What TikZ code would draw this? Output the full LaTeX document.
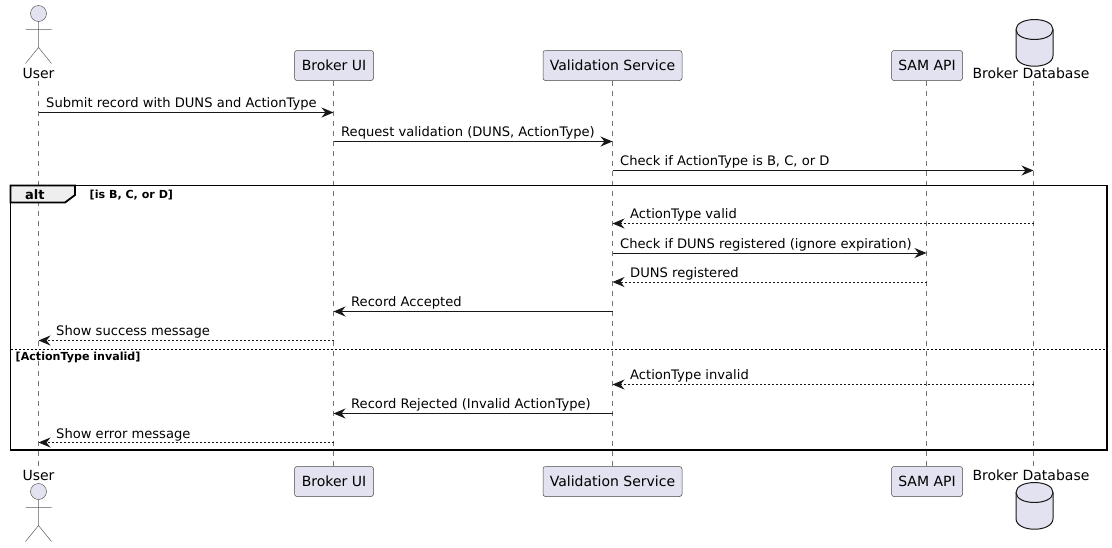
\documentclass[tikz,border=0pt]{standalone}
\usepackage{fontspec}
\setmainfont{DejaVu Sans}
\usetikzlibrary{arrows.meta}
\definecolor{puline}{HTML}{181818}
\definecolor{pufill}{HTML}{E2E2F0}
\definecolor{putab}{HTML}{EEEEEE}
\tikzset{
  x=1pt,y=-1pt,
  msgtext/.style={anchor=base west,inner sep=0pt,text=black,font=\fontsize{13.1}{15}\selectfont},
  partlabel/.style={anchor=base,inner sep=0pt,text=black,font=\fontsize{14}{16}\selectfont},
  partbox/.style={draw=puline!80,fill=pufill,line width=0.5pt,rounded corners=2.5pt,minimum height=30pt,inner sep=0pt,text=black,font=\fontsize{14}{16}\selectfont},
  lifeline/.style={draw=puline!60,line width=0.5pt,dash pattern=on 5pt off 5pt},
  msg/.style={draw=puline,line width=1pt,-{Stealth[length=12pt,width=10pt,inset=4pt]}},
  reply/.style={msg,dash pattern=on 2pt off 2pt},
  shapeline/.style={draw=puline!70,line width=0.5pt},
  dbline/.style={draw=puline,line width=1pt,fill=pufill},
  frameline/.style={draw=black,line width=1.8pt},
  guard/.style={anchor=base west,inner sep=0pt,text=black,font=\fontsize{11.1}{13}\selectfont\bfseries},
}
\newcommand{\stickman}[1]{%
  \draw[shapeline,fill=pufill] (38.5,#1) circle (8);
  \draw[shapeline] (38.5,#1+8) -- (38.5,#1+34)
    (25.5,#1+16) -- (51.5,#1+16)
    (25.5,#1+50) -- (38.5,#1+34) -- (51.5,#1+50);
}
\newcommand{\dbcan}[1]{%
  \draw[dbline] (1016,#1+10) .. controls (1016,#1-3.3) and (1053,#1-3.3) .. (1053,#1+10)
    -- (1053,#1+36) .. controls (1053,#1+50.3) and (1016,#1+50.3) .. (1016,#1+36) -- cycle;
  \draw[dbline,fill=none] (1016,#1+10) .. controls (1016,#1+23.3) and (1053,#1+23.3) .. (1053,#1+10);
}
\begin{document}
\begin{tikzpicture}
\useasboundingbox (0,0) rectangle (1112,547);
% lifeline ends
\coordinate (userT) at (38.5,80.5);   \coordinate (userB) at (38.5,466.5);
\coordinate (uiT) at (333.5,80.5);    \coordinate (uiB) at (333.5,466.5);
\coordinate (valT) at (612.5,80.5);   \coordinate (valB) at (612.5,466.5);
\coordinate (samT) at (926.5,80.5);   \coordinate (samB) at (926.5,466.5);
\coordinate (dbT) at (1033.5,80.5);   \coordinate (dbB) at (1033.5,466.5);
\draw[lifeline] (userT) -- (userB);
\draw[lifeline] (uiT) -- (uiB);
\draw[lifeline] (valT) -- (valB);
\draw[lifeline] (samT) -- (samB);
\draw[lifeline] (dbT) -- (dbB);
% participants, top
\stickman{13.5}
\node[partlabel] (userTop) at (38.5,78) {User};
\node[partbox,minimum width=79pt] (uiTop) at (334,65.5) {Broker UI};
\node[partbox,minimum width=139pt] (valTop) at (612.5,65.5) {Validation Service};
\node[partbox,minimum width=71pt] (samTop) at (927,65.5) {SAM API};
\dbcan{19.5}
\node[partlabel] (dbTop) at (1031,78) {Broker Database};
% participants, bottom
\stickman{491.5}
\node[partlabel] (userBot) at (38.5,480) {User};
\node[partbox,minimum width=79pt] (uiBot) at (334,481.5) {Broker UI};
\node[partbox,minimum width=139pt] (valBot) at (612.5,481.5) {Validation Service};
\node[partbox,minimum width=71pt] (samBot) at (927,481.5) {SAM API};
\node[partlabel] (dbBot) at (1031,480) {Broker Database};
\dbcan{482.5}
% frame
\coordinate (frTL) at (10.5,185.5);
\coordinate (frBR) at (1107,450);
\draw[frameline,fill=putab] (frTL) -- (75,185.5) -- (75,195) -- (65,202.5) -- (10.5,202.5) -- cycle;
\draw[frameline] (frTL) rectangle (frBR);
\node[anchor=base west,inner sep=0pt,text=black,font=\fontsize{13}{15}\selectfont\bfseries] (altlabel) at (25,199) {alt};
\node[guard] (guard1) at (89.5,198) {[is B, C, or D]};
\coordinate (sepL) at (10.5,349.5);
\coordinate (sepR) at (1107,349.5);
\draw[draw=black,line width=1pt,dash pattern=on 2pt off 2pt] (sepL) -- (sepR);
\node[guard] (guard2) at (15.5,360) {[ActionType invalid]};
% messages
\coordinate (m1) at (0,112.5);  \coordinate (m2) at (0,141.5);  \coordinate (m3) at (0,170.5);
\coordinate (m4) at (0,223.5);  \coordinate (m5) at (0,253);    \coordinate (m6) at (0,282);
\coordinate (m7) at (0,311.5);  \coordinate (m8) at (0,340.5);
\coordinate (m9) at (0,384.5);  \coordinate (m10) at (0,413.5); \coordinate (m11) at (0,442.5);
\draw[msg] (userT |- m1) -- (uiT |- m1);
\node[msgtext] (t1) at (46,107) {Submit record with DUNS and ActionType};
\draw[msg] (uiT |- m2) -- (valT |- m2);
\node[msgtext] (t2) at (341,136) {Request validation (DUNS, ActionType)};
\draw[msg] (valT |- m3) -- (dbT |- m3);
\node[msgtext] (t3) at (620,165) {Check if ActionType is B, C, or D};
\draw[reply] (dbT |- m4) -- (valT |- m4);
\node[msgtext] (t4) at (630,218) {ActionType valid};
\draw[msg] (valT |- m5) -- (samT |- m5);
\node[msgtext] (t5) at (620,248) {Check if DUNS registered (ignore expiration)};
\draw[reply] (samT |- m6) -- (valT |- m6);
\node[msgtext] (t6) at (630,277) {DUNS registered};
\draw[msg] (valT |- m7) -- (uiT |- m7);
\node[msgtext] (t7) at (351,306) {Record Accepted};
\draw[reply] (uiT |- m8) -- (userT |- m8);
\node[msgtext] (t8) at (56,335) {Show success message};
\draw[reply] (dbT |- m9) -- (valT |- m9);
\node[msgtext] (t9) at (630,379) {ActionType invalid};
\draw[msg] (valT |- m10) -- (uiT |- m10);
\node[msgtext] (t10) at (351,408) {Record Rejected (Invalid ActionType)};
\draw[reply] (uiT |- m11) -- (userT |- m11);
\node[msgtext] (t11) at (56,438) {Show error message};
\end{tikzpicture}
\end{document}
